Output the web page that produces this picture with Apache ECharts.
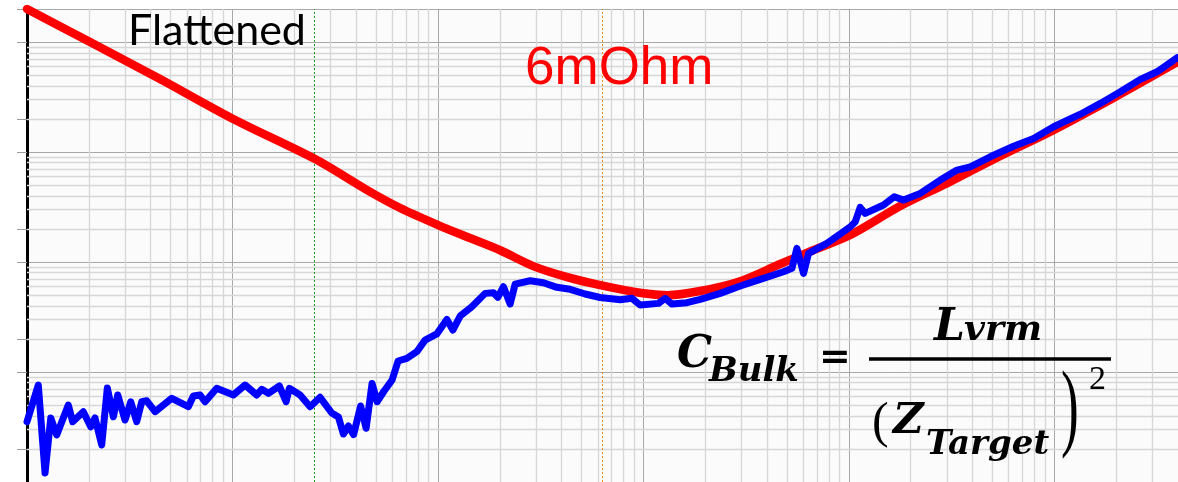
<!DOCTYPE html>
<html>
<head>
<meta charset="utf-8">
<script src="https://cdn.jsdelivr.net/npm/echarts@6/dist/echarts.min.js"></script>
<style>
  html, body { margin: 0; padding: 0; background: #ffffff; }
  #chart { width: 1178px; height: 482px; }
</style>
</head>
<body>
<div id="chart"></div>
<script>
// Frequency axis range (Hz) and impedance axis range (mOhm)
const freqMin = 100;
const freqMax = 4e7;
const zMin = 0.1;
const zMax = 2000;

// Model impedance (red)
const freqModel = [100, 202.7, 444.1, 1007, 2525, 4521, 6546, 10020, 13880, 20090, 29070, 42560, 61630,
  99770, 130600, 189000, 296000, 463400, 670900, 1016000, 1780000, 3014000, 5459000, 9888000, 19380000, 39700000];
const zModel = [2000, 1000, 461, 200, 86.3, 45.1, 31.0, 21.7, 16.9, 12.8, 9.19, 7.30, 6.18,
  5.2, 5.0, 5.45, 6.7, 9.6, 12.8, 17.6, 32.3, 52.2, 92, 158, 310, 658];

// Measured impedance (blue)
const freqMeas = [100, 113.5, 122.4, 130.5, 139.5, 158.9, 166.9, 187.9, 204.2, 214.3,
  231.0, 246.0, 263.2, 276.5, 300.0, 319.8, 342.0, 361.7, 382.6, 420.1,
  506.4, 610.0, 645.1, 695.6, 735.7, 838.6, 1010, 1152, 1313, 1389,
  1496, 1692, 1824, 1892, 2134, 2387, 2670, 3044, 3279, 3467,
  3667, 3887, 4205, 4472, 4781, 5058, 5471, 5984, 6400, 7059,
  7895, 8663, 9876, 11050, 11820, 12830, 14620, 16980, 18630, 19570,
  20840, 22460, 23760, 28110, 32630, 37930, 44010, 52080, 61630, 77110,
  87900, 96470, 118400, 127700, 137700, 162800, 189000, 236500, 296000, 370400,
  481000, 528400, 558800, 601900, 636600, 782300, 1016000, 1074000, 1136000, 1202000,
  1475000, 1663000, 1846000, 2226000, 2786000, 3360000, 3901000, 4880000, 6338000, 7929000,
  9922000, 13390000, 16750000, 20960000, 26220000, 31620000, 39700000];
const zMeas = [0.353, 0.762, 0.121, 0.382, 0.268, 0.501, 0.353, 0.436, 0.318, 0.382,
  0.217, 0.715, 0.392, 0.618, 0.366, 0.537, 0.353, 0.537, 0.548, 0.436,
  0.577, 0.484, 0.605, 0.618, 0.537, 0.711, 0.618, 0.762, 0.618, 0.696,
  0.640, 0.746, 0.537, 0.711, 0.618, 0.484, 0.589, 0.424, 0.390, 0.273,
  0.323, 0.270, 0.491, 0.308, 0.786, 0.537, 0.672, 0.846, 1.26, 1.33,
  1.53, 1.95, 2.22, 3.01, 2.41, 3.23, 3.92, 5.19, 5.26, 4.78,
  5.96, 4.15, 6.31, 6.76, 6.49, 5.89, 5.65, 5.12, 4.76, 4.55,
  4.68, 4.06, 4.21, 4.68, 4.15, 4.27, 4.58, 5.19, 6.05, 6.96,
  8.16, 8.77, 13.3, 7.89, 12.0, 14.8, 20.9, 23.2, 31.4, 27.7,
  33.0, 39.2, 36.6, 42.1, 55.6, 68.6, 73.5, 90.6, 113, 133,
  170, 221, 277, 353, 458, 537, 723];

// Marker frequencies (Hz)
const flattenedFreq = 2500;
const targetFreq = 62800;

// Annotation text
const labelFlattened = 'Flattened';
const labelTarget = '6mOhm';

// Axis tick values on the impedance axis
const yTickValues = [0.1, 0.2, 1, 2, 10, 20, 100, 200, 1000, 2000];

// Minor (2..9 per decade) grid positions
function minorValues(lo, hi) {
  const out = [];
  for (let e = Math.floor(Math.log10(lo)); e <= Math.ceil(Math.log10(hi)); e++) {
    for (let m = 2; m <= 9; m++) {
      const v = m * Math.pow(10, e);
      if (v > lo && v < hi) out.push(+v.toPrecision(6));
    }
  }
  return out;
}
const minorX = minorValues(freqMin, freqMax);
const minorY = minorValues(zMin, zMax);

const pairs = (xs, ys) => xs.map((x, i) => [x, ys[i]]);

const chart = echarts.init(document.getElementById('chart'), null, { renderer: 'canvas' });

const formulaFont = '"DejaVu Serif"';

chart.setOption({
  animation: false,
  backgroundColor: '#ffffff',
  grid: { left: 27, right: 0, top: 9, bottom: 0, show: true, backgroundColor: '#fbfbfb', borderWidth: 0 },
  xAxis: {
    type: 'log', logBase: 10, min: freqMin, max: freqMax,
    axisLine: { show: false }, axisTick: { show: false }, axisLabel: { show: false },
    splitLine: { show: true, lineStyle: { color: '#a8a8a8', width: 1 } }
  },
  yAxis: {
    type: 'log', logBase: 10, min: zMin, max: zMax,
    axisLine: { show: true, onZero: false, lineStyle: { color: '#000000', width: 3 } },
    axisTick: { show: true, length: 10, customValues: yTickValues, lineStyle: { color: '#9a9a9a', width: 1 } },
    axisLabel: { show: false },
    splitLine: { show: true, lineStyle: { color: '#a8a8a8', width: 1 } }
  },
  series: [
    {
      name: 'grid-minor', type: 'line', data: [], silent: true,
      markLine: {
        z: 1, silent: true, symbol: ['none', 'none'], label: { show: false },
        emphasis: { disabled: true },
        lineStyle: { color: '#d7d7d7', width: 1.3, type: 'solid' },
        data: minorX.map(v => ({ xAxis: v })).concat(minorY.map(v => ({ yAxis: v })))
      }
    },
    {
      name: 'markers', type: 'line', data: [], silent: true,
      markLine: {
        z: 1, silent: true, symbol: ['none', 'none'], label: { show: false },
        emphasis: { disabled: true },
        data: [
          { xAxis: flattenedFreq, lineStyle: { color: '#1a9a1a', width: 1, type: [2, 2] } },
          { xAxis: targetFreq, lineStyle: { color: '#f08a1a', width: 1, type: [2, 2] } }
        ]
      }
    },
    {
      name: 'Model', type: 'line', z: 3, data: pairs(freqModel, zModel),
      symbol: 'none', smooth: 0.3,
      lineStyle: { color: '#ff0000', width: 8.5, cap: 'round', join: 'round' }
    },
    {
      name: 'Measured', type: 'line', z: 4, data: pairs(freqMeas, zMeas),
      symbol: 'none',
      lineStyle: { color: '#0000ff', width: 7, cap: 'round', join: 'round' }
    }
  ],
  graphic: [
    { type: 'text', x: 128, y: 31, z: 10, style: { text: labelFlattened, fontFamily: 'Lato', fontSize: 43, fill: '#000', verticalAlign: 'middle' } },
    { type: 'text', x: 525, y: 69, z: 10, style: { text: labelTarget, fontFamily: '"Liberation Sans"', fontSize: 53, fill: '#ff0000', verticalAlign: 'middle' } },
    // C_Bulk = L_vrm / (Z_Target)^2
    { type: 'text', x: 677, y: 356, z: 10, style: { text: 'C', fontFamily: formulaFont, fontWeight: 'bold', fontStyle: 'italic', fontSize: 44, fill: '#000', verticalAlign: 'middle' } },
    { type: 'text', x: 709, y: 372, z: 10, style: { text: 'Bulk', fontFamily: formulaFont, fontWeight: 'bold', fontStyle: 'italic', fontSize: 34, fill: '#000', verticalAlign: 'middle' } },
    { type: 'text', x: 819, y: 359, z: 10, style: { text: '=', fontFamily: formulaFont, fontWeight: 'bold', fontSize: 38, fill: '#000', verticalAlign: 'middle' } },
    { type: 'line', z: 10, shape: { x1: 869, y1: 359, x2: 1111, y2: 359 }, style: { stroke: '#000', lineWidth: 3.5 } },
    { type: 'text', x: 934, y: 329, z: 10, style: { text: 'L', fontFamily: formulaFont, fontWeight: 'bold', fontStyle: 'italic', fontSize: 44, fill: '#000', verticalAlign: 'middle' } },
    { type: 'text', x: 964, y: 331, z: 10, style: { text: 'vrm', fontFamily: formulaFont, fontWeight: 'bold', fontStyle: 'italic', fontSize: 36, fill: '#000', verticalAlign: 'middle' } },
    { type: 'text', x: 872, y: 424, z: 10, style: { text: '(', fontFamily: '"Liberation Serif"', fontSize: 50, fill: '#000', verticalAlign: 'middle' } },
    { type: 'text', x: 893, y: 422, z: 10, style: { text: 'Z', fontFamily: formulaFont, fontWeight: 'bold', fontStyle: 'italic', fontSize: 42, fill: '#000', verticalAlign: 'middle' } },
    { type: 'text', x: 926, y: 445, z: 10, style: { text: 'Target', fontFamily: formulaFont, fontWeight: 'bold', fontStyle: 'italic', fontSize: 34, fill: '#000', verticalAlign: 'middle' } },
    { type: 'text', x: 1061, y: 413, scaleX: 0.55, z: 10, style: { text: ')', fontFamily: '"Liberation Serif"', fontSize: 97, fill: '#000', verticalAlign: 'middle' } },
    { type: 'text', x: 1089, y: 380, z: 10, style: { text: '2', fontFamily: '"Liberation Serif"', fontSize: 34, fill: '#000', verticalAlign: 'middle' } }
  ]
});
</script>
</body>
</html>
